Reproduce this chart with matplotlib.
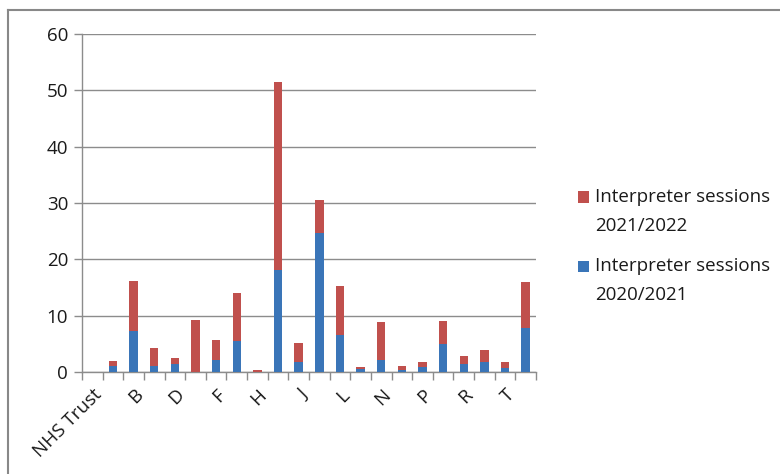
import matplotlib
matplotlib.use("Agg")
import matplotlib.pyplot as plt
from matplotlib.lines import Line2D
from matplotlib.patches import Rectangle
import numpy as np

# Trusts on the x axis (only every other one is labelled)
categories = ["NHS Trust", "A", "B", "C", "D", "E", "F", "G", "H", "I", "J",
              "K", "L", "M", "N", "O", "P", "Q", "R", "S", "T", "U"]
tick_labels = ["NHS Trust", "", "B", "", "D", "", "F", "", "H", "", "J",
               "", "L", "", "N", "", "P", "", "R", "", "T", ""]

# Sessions per trust
sessions_2020_21 = [0, 1.0, 7.3, 1.1, 1.5, 0, 2.1, 5.5, 0, 18.1, 1.8,
                    24.7, 6.5, 0.5, 2.1, 0.4, 0.8, 4.9, 1.5, 1.8, 0.7, 7.8]
totals = [0, 1.9, 16.2, 4.3, 2.4, 9.2, 5.6, 14.0, 0.3, 51.5, 5.2,
          30.6, 15.2, 0.8, 8.8, 1.0, 1.7, 9.1, 2.8, 3.9, 1.7, 15.9]
sessions_2021_22 = [round(t - b, 2) for t, b in zip(totals, sessions_2020_21)]

series_names = ["Interpreter sessions\n2021/2022", "Interpreter sessions\n2020/2021"]
y_ticks = [0, 10, 20, 30, 40, 50, 60]

BLUE = "#3A75B8"
RED = "#C0504D"
FS = 13.5
W, H = 780, 474

plt.rcParams["font.family"] = ["Open Sans", "DejaVu Sans"]

fig = plt.figure(figsize=(W / 100, H / 100), dpi=100)
ax = fig.add_axes([82 / W, 1 - 372 / H, (536 - 82) / W, (372 - 34) / H])

x = np.arange(len(categories))
ax.bar(x, sessions_2020_21, width=0.41, color=BLUE, edgecolor="none", zorder=3)
ax.bar(x, sessions_2021_22, bottom=sessions_2020_21, width=0.41, color=RED,
       edgecolor="none", zorder=3)

ax.set_xlim(-0.5, len(categories) - 0.5)
ax.set_ylim(0, 60)
ax.set_yticks(y_ticks)
ax.set_yticklabels([str(v) for v in y_ticks], fontsize=FS, color="#1a1a1a")
ax.yaxis.grid(True, color="#8c8c8c", linewidth=1.0, zorder=0)
ax.set_axisbelow(True)

# Category boundary ticks on x, labels at the centres
ax.set_xticks(np.arange(len(categories) + 1) - 0.5, minor=True)
ax.set_xticks(x)
ax.set_xticklabels(tick_labels, rotation=45, ha="right", rotation_mode="anchor",
                   fontsize=FS, color="#1a1a1a")
ax.tick_params(axis="x", which="major", length=0, pad=10)
ax.tick_params(axis="x", which="minor", length=6, color="#8c8c8c", width=1)
ax.tick_params(axis="y", length=6, color="#8c8c8c", width=1, pad=4)

for side in ["top", "right"]:
    ax.spines[side].set_visible(False)
for side in ["left", "bottom"]:
    ax.spines[side].set_color("#8c8c8c")
    ax.spines[side].set_linewidth(1)

# Legend: swatch aligned with the first line of each two-line entry
for name, color, y0 in zip(series_names, [RED, BLUE], [197, 266]):
    fig.add_artist(Rectangle((578 / W, 1 - (y0 + 5.5) / H), 11 / W, 11 / H,
                             transform=fig.transFigure, facecolor=color, edgecolor="none"))
    fig.text(595 / W, 1 - (y0 - 9) / H, name, fontsize=FS, color="#1a1a1a",
             va="top", ha="left", linespacing=1.8)

# Outer chart frame (top and left edges)
fig.add_artist(Line2D([8 / W, 1.0], [1 - 9.5 / H, 1 - 9.5 / H], color="#888888", linewidth=1.5))
fig.add_artist(Line2D([8 / W, 8 / W], [0, 1 - 9.5 / H], color="#888888", linewidth=1.5))

fig.savefig("out.png", dpi=100)
